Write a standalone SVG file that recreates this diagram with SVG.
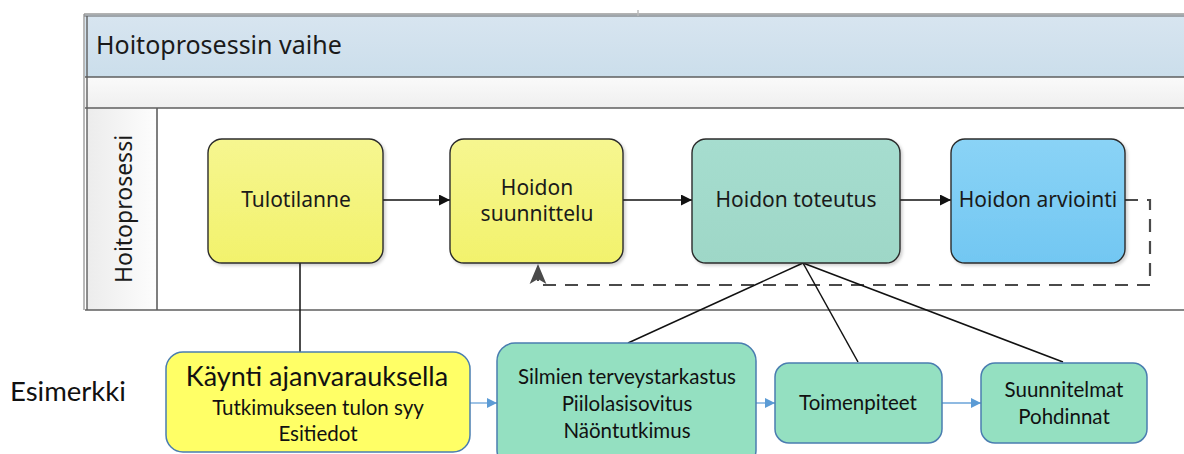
<svg xmlns="http://www.w3.org/2000/svg" width="1184" height="454" viewBox="0 0 1184 454">
<defs>
<linearGradient id="hdr" x1="0" y1="0" x2="0" y2="1"><stop offset="0" stop-color="#d8e5f0"/><stop offset="1" stop-color="#cbdeeb"/></linearGradient>
<linearGradient id="band" x1="0" y1="0" x2="0" y2="1"><stop offset="0" stop-color="#fafafa"/><stop offset="1" stop-color="#efefef"/></linearGradient>
<linearGradient id="lanehdr" x1="0" y1="0" x2="1" y2="0"><stop offset="0" stop-color="#ececec"/><stop offset="1" stop-color="#fdfdfd"/></linearGradient>
<linearGradient id="yel" x1="0" y1="0" x2="0" y2="1"><stop offset="0" stop-color="#f6f690"/><stop offset="1" stop-color="#f2f26c"/></linearGradient>
<linearGradient id="teal" x1="0" y1="0" x2="0" y2="1"><stop offset="0" stop-color="#a6ddcf"/><stop offset="1" stop-color="#9ed7c7"/></linearGradient>
<linearGradient id="blu" x1="0" y1="0" x2="0" y2="1"><stop offset="0" stop-color="#8ad3f6"/><stop offset="1" stop-color="#72c7f2"/></linearGradient>
<marker id="ah" viewBox="0 0 10 10" refX="10" refY="5" markerWidth="11" markerHeight="11" markerUnits="userSpaceOnUse" orient="auto"><path d="M0,0 L10,5 L0,10 z" fill="#111"/></marker>
<marker id="ahg" viewBox="0 0 10 10" refX="10" refY="5" markerWidth="20" markerHeight="20" markerUnits="userSpaceOnUse" orient="auto"><path d="M0,0.8 L10,5 L0,9.2 L2.5,5 z" fill="#4a4a4a"/></marker>
<marker id="ahb" viewBox="0 0 10 10" refX="10" refY="5" markerWidth="10" markerHeight="10" markerUnits="userSpaceOnUse" orient="auto"><path d="M0,0 L10,5 L0,10 z" fill="#5b9bd5"/></marker>
<filter id="sh" x="-5%" y="-5%" width="115%" height="115%"><feDropShadow dx="2" dy="2" stdDeviation="1.5" flood-color="#000" flood-opacity="0.18"/></filter>
</defs>
<style>
.lbl{font-family:"Noto Sans","Open Sans",sans-serif;font-size:21px;fill:#1a1a1a;text-anchor:middle}
.proc{stroke:#2b2b2b;stroke-width:1.4}
.ex{stroke:#4a7db0;stroke-width:1.5}
.cal{font-family:Lato,"Liberation Sans",sans-serif;fill:#111;text-anchor:middle;font-size:20.5px}
.big{font-size:27px}
.pl{stroke:#5e5e5e;stroke-width:1.6;fill:none}
.conn{stroke:#111;stroke-width:1.5;fill:none}
.bl{stroke:#6aa3d8;stroke-width:1.3;fill:none}
</style>
<g id="pool">
<rect x="85" y="14" width="1110" height="63" fill="url(#hdr)"/>
<rect x="85" y="77" width="1110" height="31" fill="url(#band)"/>
<rect x="87" y="108" width="70" height="202" fill="url(#lanehdr)"/>
<line x1="84" y1="14" x2="1184" y2="14" stroke="#9a9a9a" stroke-width="1.5"/>
<line x1="84" y1="16" x2="1184" y2="16" stroke="#666" stroke-width="1.2"/>
<line x1="638" y1="10" x2="638" y2="16" stroke="#bbb" stroke-width="1.5"/>
<line x1="85" y1="77" x2="1184" y2="77" class="pl"/>
<line x1="85" y1="108" x2="1184" y2="108" class="pl"/>
<line x1="85" y1="310" x2="1184" y2="310" class="pl"/>
<line x1="84" y1="14" x2="84" y2="310" stroke="#8a8a8a" stroke-width="1.2"/>
<line x1="87" y1="16" x2="87" y2="310" stroke="#5e5e5e" stroke-width="1.4"/>
<line x1="157" y1="108" x2="157" y2="310" class="pl"/>
<text x="96" y="54" font-family="Noto Sans, Open Sans, sans-serif" font-size="25" fill="#1a1a1a">Hoitoprosessin vaihe</text>
<text transform="translate(132,209) rotate(-90)" font-family="Noto Sans, Open Sans, sans-serif" font-size="23" fill="#1a1a1a" text-anchor="middle">Hoitoprosessi</text>
</g>
<g id="connectors">
<line x1="383" y1="200" x2="450" y2="200" class="conn" marker-end="url(#ah)"/>
<line x1="623" y1="200" x2="692" y2="200" class="conn" marker-end="url(#ah)"/>
<line x1="900" y1="200" x2="951" y2="200" class="conn" marker-end="url(#ah)"/>
<path d="M1125,200 H1150 V285 H538 V264" stroke="#4a4a4a" stroke-width="2.2" fill="none" stroke-dasharray="13,9" marker-end="url(#ahg)"/>
<line x1="300" y1="263" x2="300" y2="352" class="conn"/>
<line x1="803" y1="263" x2="628" y2="343" class="conn"/>
<line x1="803" y1="263" x2="858" y2="362" class="conn"/>
<line x1="803" y1="263" x2="1063" y2="362" class="conn"/>
<line x1="470" y1="403" x2="497" y2="403" class="bl" marker-end="url(#ahb)"/>
<line x1="756" y1="403" x2="775" y2="403" class="bl" marker-end="url(#ahb)"/>
<line x1="942" y1="403" x2="981" y2="403" class="bl" marker-end="url(#ahb)"/>
</g>
<g id="tulotilanne">
<rect x="208" y="139" width="175" height="124" rx="14" fill="url(#yel)" class="proc" filter="url(#sh)"/>
<text x="296" y="207" class="lbl">Tulotilanne</text>
</g>
<g id="suunnittelu">
<rect x="450" y="139" width="173" height="124" rx="14" fill="url(#yel)" class="proc" filter="url(#sh)"/>
<text x="537" y="195" class="lbl">Hoidon</text>
<text x="537" y="221" class="lbl">suunnittelu</text>
</g>
<g id="toteutus">
<rect x="692" y="139" width="208" height="124" rx="14" fill="url(#teal)" class="proc" filter="url(#sh)"/>
<text x="796" y="207" class="lbl">Hoidon toteutus</text>
</g>
<g id="arviointi">
<rect x="951" y="139" width="174" height="124" rx="14" fill="url(#blu)" class="proc" filter="url(#sh)"/>
<text x="1038" y="207" class="lbl">Hoidon arviointi</text>
</g>
<g id="esimerkki">
<text x="10" y="401" font-family="Lato, Liberation Sans, sans-serif" font-size="27.5" fill="#111">Esimerkki</text>
</g>
<g id="kaynti">
<rect x="166" y="352" width="304" height="100" rx="17" fill="#ffff66" class="ex"/>
<text x="317" y="386" class="cal big">Käynti ajanvarauksella</text>
<text x="318" y="415" class="cal">Tutkimukseen tulon syy</text>
<text x="318" y="441" class="cal">Esitiedot</text>
</g>
<g id="silmien">
<rect x="497" y="343" width="259" height="125" rx="18" fill="#94e0c1" class="ex"/>
<text x="627" y="384" class="cal">Silmien terveystarkastus</text>
<text x="627" y="411" class="cal">Piilolasisovitus</text>
<text x="627" y="438" class="cal">Näöntutkimus</text>
</g>
<g id="toimenpiteet">
<rect x="775" y="363" width="167" height="80" rx="14" fill="#94e0c1" class="ex"/>
<text x="858" y="410" class="cal">Toimenpiteet</text>
</g>
<g id="suunnitelmat">
<rect x="981" y="363" width="166" height="80" rx="14" fill="#94e0c1" class="ex"/>
<text x="1064" y="397" class="cal">Suunnitelmat</text>
<text x="1064" y="424" class="cal">Pohdinnat</text>
</g>
</svg>
